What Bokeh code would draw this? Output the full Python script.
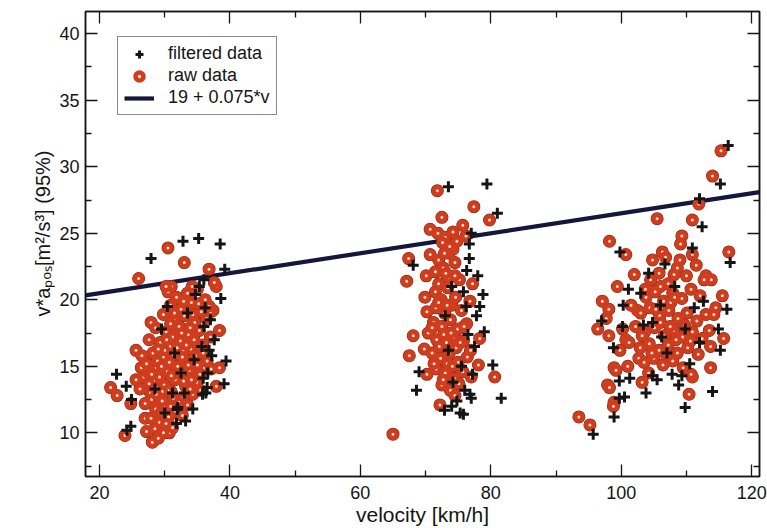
from bokeh.plotting import figure
from bokeh.models import Range1d, FixedTicker, LinearAxis, Legend, LegendItem, ColumnDataSource, Title
from bokeh.embed import file_html
from bokeh.resources import INLINE

# ---------------- data ----------------
x_ticks = [20, 40, 60, 80, 100, 120]
x_minor = [30, 50, 70, 90, 110]
y_ticks = [10, 15, 20, 25, 30, 35, 40]
y_minor = [7.5, 12.5, 17.5, 22.5, 27.5, 32.5, 37.5]

x_title = "velocity [km/h]"
y_title = "v*aₚₒₛ[m²/s³] (95%)"

fit_intercept = 19.0
fit_slope = 0.075
fit_label = "19 + 0.075*v"

raw_low = [
    (30.5, 23.9), (33.0, 22.8), (26.0, 21.6), (36.8, 22.3), (37.9, 21.0), (31.0, 21.0),
    (37.6, 21.3), (37.4, 19.2), (27.9, 18.3), (38.4, 17.7), (25.6, 16.2), (26.4, 14.9),
    (38.4, 14.9), (37.9, 13.5), (21.7, 13.4), (22.7, 12.8), (24.8, 12.2), (23.9, 9.8),
    (28.1, 9.3), (27.2, 10.1), (30.7, 10.0), (27.0, 11.1), (37.0, 19.1),
    (30.5, 20.6), (31.8, 20.2), (33.5, 20.5), (35.0, 20.8), (36.2, 20.0), (30.9, 19.6),
    (32.5, 19.3), (34.1, 19.8), (35.6, 19.1), (29.8, 18.9), (31.4, 18.5), (33.0, 18.8),
    (34.6, 18.3), (36.4, 18.6), (28.6, 17.9), (30.2, 17.6), (31.9, 17.9), (33.6, 17.4),
    (35.3, 17.7), (37.0, 17.2), (27.6, 17.0), (29.3, 16.8), (30.8, 16.5), (32.4, 16.9),
    (34.0, 16.3), (35.8, 16.6), (28.2, 16.0), (29.8, 15.7), (31.3, 15.9), (33.1, 15.5),
    (34.7, 15.8), (36.5, 15.4), (27.2, 15.2), (28.7, 14.9), (30.4, 14.6), (32.0, 15.0),
    (33.8, 14.7), (35.4, 14.4), (37.1, 14.8), (26.8, 14.2), (28.3, 13.9), (29.9, 13.6),
    (31.6, 14.0), (33.2, 13.5), (34.9, 13.8), (26.2, 13.3), (27.8, 13.0), (29.4, 12.7),
    (31.0, 13.1), (32.6, 12.6), (34.3, 12.9), (27.0, 12.2), (28.6, 11.8), (30.1, 12.0),
    (31.7, 11.6), (33.5, 12.1), (27.9, 11.1), (29.2, 10.8), (30.6, 11.2), (28.5, 10.3),
    (29.8, 10.0), (31.2, 10.4), (29.0, 9.6), (32.2, 18.0), (30.0, 16.2), (31.0, 14.3),
    (32.8, 16.2), (29.2, 14.2), (33.6, 15.1), (30.5, 13.2), (32.1, 12.3), (28.9, 15.4),
    (34.5, 17.0), (35.9, 16.0), (36.8, 19.5), (31.2, 17.2), (29.6, 12.4), (27.4, 14.5),
    (26.5, 15.8), (32.9, 19.9), (34.2, 21.0), (30.2, 21.0), (35.2, 19.7), (33.9, 13.3),
    (35.5, 13.2), (25.6, 14.0), (28.0, 12.5),
    (29.5, 15.0), (30.7, 15.3), (32.7, 15.7), (31.9, 16.4), (30.3, 17.0), (29.0, 16.3),
    (28.0, 14.4), (29.6, 13.1), (31.3, 12.6), (32.9, 13.9), (30.9, 18.2), (32.6, 17.5),
    (34.3, 18.9), (33.3, 16.6), (31.5, 19.0), (28.7, 12.9), (30.2, 10.7), (29.3, 11.5),
    (32.7, 11.3), (27.6, 13.7), (33.9, 17.9), (35.0, 15.1), (34.1, 14.0), (30.9, 12.0),
]
raw_mid = [
    (71.8, 28.2), (77.4, 27.0), (72.5, 26.2), (79.8, 26.0), (70.7, 25.3), (75.7, 25.6),
    (71.9, 25.0), (73.0, 24.7), (74.2, 25.1), (72.6, 24.3), (74.8, 24.4), (76.2, 24.8),
    (67.4, 23.1), (70.7, 23.4), (73.6, 23.5), (72.0, 23.0), (74.5, 22.8), (67.1, 21.4),
    (70.1, 21.8), (72.7, 22.4), (73.5, 21.7), (75.2, 21.5), (77.2, 21.2), (69.9, 20.2),
    (71.5, 20.6), (72.4, 20.0), (73.4, 20.9), (74.6, 20.2), (76.8, 19.9), (70.2, 19.1),
    (71.6, 19.4), (72.9, 19.0), (75.5, 19.2), (76.3, 18.2), (71.2, 18.3), (72.5, 18.0),
    (73.8, 18.5), (74.9, 17.8), (68.1, 17.3), (70.4, 17.5), (71.7, 17.0), (73.2, 16.8),
    (74.3, 17.2), (75.8, 16.9), (78.3, 17.1), (67.5, 15.8), (69.8, 16.3), (71.0, 16.0),
    (72.3, 15.6), (73.6, 15.9), (75.0, 15.3), (76.4, 15.7), (78.1, 15.1), (70.2, 14.4),
    (71.6, 14.8), (73.0, 14.5), (74.4, 14.1), (75.7, 14.6), (77.0, 14.2), (80.6, 14.2),
    (72.5, 13.6), (73.8, 13.2), (75.1, 13.7), (74.5, 12.8), (72.2, 12.1), (65.0, 9.9),
    (71.0, 17.9), (74.0, 19.6), (72.0, 21.2), (75.9, 18.0), (73.3, 15.2), (74.7, 16.4),
    (76.9, 16.2), (72.8, 17.4), (74.2, 23.8), (73.1, 22.0),
    (72.0, 19.8), (73.9, 17.5), (71.3, 15.2), (74.1, 15.0), (72.7, 14.0), (73.3, 19.6),
    (74.5, 21.8), (72.9, 23.5), (73.7, 24.0), (71.5, 22.1), (75.3, 16.8), (72.1, 16.5),
]
raw_high = [
    (115.3, 31.2), (114.0, 29.3), (111.9, 27.2), (105.5, 26.1), (110.9, 26.0), (98.2, 24.4),
    (109.3, 24.8), (109.1, 24.2), (100.7, 23.4), (106.3, 23.6), (110.9, 23.4), (116.5, 23.6),
    (108.1, 21.9), (113.0, 21.8), (113.8, 21.5), (99.4, 21.0), (103.7, 20.8), (97.1, 19.9),
    (115.5, 20.3), (98.1, 19.3), (102.5, 19.2), (97.7, 18.6), (96.4, 17.8), (98.1, 17.3),
    (100.7, 17.0), (114.5, 19.4), (114.2, 18.9), (115.7, 17.1), (113.7, 16.5), (99.8, 16.2),
    (102.7, 15.6), (98.9, 14.9), (99.2, 14.7), (113.7, 14.9), (97.9, 13.6), (103.2, 13.8),
    (110.9, 14.2), (110.4, 12.9), (98.9, 12.3), (98.8, 12.0), (93.5, 11.2), (95.2, 10.6),
    (98.2, 13.4), (110.7, 14.4),
    (104.5, 21.5), (105.8, 22.0), (107.2, 21.2), (108.6, 22.4), (110.0, 21.8), (111.5, 22.6),
    (103.8, 20.2), (105.2, 20.6), (106.5, 19.9), (107.9, 20.5), (109.3, 20.1), (110.7, 20.8),
    (112.1, 20.3), (101.5, 19.6), (103.0, 19.0), (104.4, 19.4), (105.9, 18.8), (107.3, 19.2),
    (108.7, 18.6), (110.1, 19.0), (111.6, 18.4), (113.0, 18.9), (102.2, 18.0), (103.6, 17.6),
    (105.1, 17.9), (106.6, 17.3), (108.0, 17.7), (109.4, 17.2), (110.9, 17.6), (112.4, 17.1),
    (101.2, 16.8), (102.9, 16.4), (104.3, 16.7), (105.8, 16.2), (107.2, 16.6), (108.6, 16.0),
    (110.2, 16.4), (111.8, 15.9), (103.5, 15.3), (105.0, 15.6), (106.4, 15.1), (107.9, 15.4),
    (109.5, 14.9), (104.2, 14.5), (101.0, 15.0), (106.0, 21.0), (109.0, 23.0), (107.5, 18.0),
    (106.8, 23.2), (112.7, 21.5), (113.5, 17.7), (100.2, 17.8), (102.0, 21.9), (104.8, 23.0),
    (106.0, 18.3), (107.6, 19.8), (108.4, 17.0), (105.3, 19.3), (109.7, 18.1), (104.7, 16.0),
    (106.9, 15.9), (108.2, 20.2), (110.6, 16.9), (103.2, 17.3),
]

filtered_low = [
    (32.8, 24.4), (35.2, 24.6), (38.5, 24.2), (27.9, 23.1), (39.2, 22.3), (38.6, 20.1),
    (35.3, 21.0), (30.4, 19.5), (37.6, 17.0), (39.4, 15.4), (39.1, 13.7), (22.6, 14.4),
    (24.1, 13.5), (35.8, 12.9), (32.0, 11.9), (31.8, 10.7), (24.8, 10.5), (24.2, 10.2),
    (36.3, 13.0), (35.7, 16.5), (31.2, 13.0), (36.6, 14.5), (31.9, 11.75),
    (33.5, 19.0), (36.0, 18.0), (34.5, 15.5), (36.8, 16.2), (35.9, 14.1), (33.0, 13.0),
    (34.3, 11.8), (36.5, 13.4), (29.5, 17.8), (31.5, 16.0), (30.0, 11.5), (33.2, 10.9),
    (36.2, 19.4), (37.2, 15.8), (28.5, 13.3), (24.9, 12.5), (32.5, 14.5), (36.0, 21.5),
    (34.7, 20.4), (37.0, 18.5),
]
filtered_mid = [
    (73.5, 28.5), (79.4, 28.7), (81.0, 26.5), (76.7, 24.2), (76.7, 23.1), (68.1, 22.6),
    (76.3, 22.2), (78.8, 20.4), (78.3, 19.5), (77.8, 18.8), (68.6, 13.2), (80.3, 15.1),
    (81.6, 12.6), (75.3, 11.5), (72.9, 11.7), (76.8, 12.9), (77.2, 14.4), (74.8, 12.4),
    (75.8, 11.4), (77.0, 12.6),
    (74.0, 21.0), (75.8, 20.6), (73.0, 18.8), (76.5, 17.4), (77.5, 16.5), (75.5, 15.0),
    (74.2, 13.8), (76.0, 13.2), (73.5, 16.2), (78.0, 21.8), (77.0, 25.0), (79.0, 17.6),
    (74.0, 12.0), (69.0, 14.6), (76.2, 19.5),
]
filtered_high = [
    (116.4, 31.6), (115.2, 28.7), (112.0, 27.6), (112.4, 25.5), (99.8, 23.6), (110.9, 23.9),
    (116.7, 22.8), (106.7, 22.7), (104.2, 22.0), (101.1, 20.8), (100.3, 19.6), (97.0, 18.4),
    (100.2, 18.0), (103.4, 18.1), (116.2, 19.3), (114.9, 17.8), (115.2, 16.2), (112.6, 19.9),
    (98.8, 16.4), (99.7, 13.9), (101.3, 14.1), (100.5, 12.7), (103.8, 13.0), (104.8, 14.3),
    (107.8, 14.4), (109.3, 14.3), (114.0, 13.1), (109.8, 11.9), (98.9, 11.2), (95.7, 9.9),
    (99.7, 12.6),
    (106.0, 19.6), (108.2, 21.0), (109.8, 17.8), (107.0, 16.0), (111.2, 19.4), (104.8, 18.3),
    (110.5, 15.2), (105.5, 14.0), (108.8, 13.6), (112.0, 16.8), (106.2, 17.2), (103.0, 20.5),
]

# ---------------- figure ----------------
X0, X1 = 17.85, 121.2
Y0, Y1 = 6.72, 41.67
FONT = "Liberation Sans"
INK = "#151515"

p = figure(width=767, height=528, output_backend="svg", toolbar_location=None,
           x_range=Range1d(X0, X1), y_range=Range1d(Y0, Y1),
           min_border_left=85, min_border_right=8, min_border_top=11, min_border_bottom=51,
           background_fill_color="white", border_fill_color="white")
p.grid.visible = False
p.outline_line_color = INK
p.outline_line_width = 1.5

xt = FixedTicker(ticks=x_ticks, minor_ticks=x_minor)
yt = FixedTicker(ticks=y_ticks, minor_ticks=y_minor)

def style_axis(ax, show_labels, standoff):
    ax.axis_line_color = INK
    ax.axis_line_width = 1.5
    ax.major_tick_in = 12
    ax.major_tick_out = 0
    ax.minor_tick_in = 6
    ax.minor_tick_out = 0
    ax.major_tick_line_color = INK
    ax.minor_tick_line_color = INK
    ax.major_tick_line_width = 1.3
    ax.minor_tick_line_width = 1.3
    ax.major_label_text_font = FONT
    ax.major_label_text_font_size = "18px"
    ax.major_label_text_color = INK
    ax.major_label_standoff = standoff
    if not show_labels:
        ax.major_label_overrides = {t: "" for t in (x_ticks + y_ticks)}
        ax.major_label_standoff = 0

p.xaxis.ticker = xt
p.yaxis.ticker = yt
style_axis(p.xaxis[0], True, 9)
style_axis(p.yaxis[0], True, 6)

xa = p.xaxis[0]
xa.axis_label = x_title
xa.axis_label_text_font = FONT
xa.axis_label_text_font_size = "21px"
xa.axis_label_text_font_style = "normal"
xa.axis_label_text_color = INK
xa.axis_label_standoff = 1

top_ax = LinearAxis(ticker=xt)
right_ax = LinearAxis(ticker=yt)
style_axis(top_ax, False, 0)
style_axis(right_ax, False, 0)
p.add_layout(top_ax, "above")
p.add_layout(right_ax, "right")

ytitle = Title(text=y_title, align="right", offset=139, standoff=6,
               text_font=FONT, text_font_size="20px", text_font_style="normal",
               text_color=INK)
p.add_layout(ytitle, "left")

raw_all = raw_low + raw_mid + raw_high
filt_all = filtered_low + filtered_mid + filtered_high
raw_src = ColumnDataSource(dict(v=[a for a, b in raw_all], a=[b for a, b in raw_all]))
filt_src = ColumnDataSource(dict(v=[a for a, b in filt_all], a=[b for a, b in filt_all]))

line_v = [X0, X1]
line_a = [fit_intercept + fit_slope * v for v in line_v]
line_r = p.line(line_v, line_a, line_color="#14163c", line_width=4.2)

under_r = p.scatter("v", "a", source=raw_src, marker="circle", size=13,
                    fill_color="#7c2a14", line_color=None)
ring_r = p.scatter("v", "a", source=raw_src, marker="circle", size=7.5,
                   fill_color="#fbe2c6", line_color="#d13b1e", line_width=4.5)
cross_r = p.scatter("v", "a", source=filt_src, marker="cross", size=11,
                    line_color=INK, line_width=3)

legend = Legend(items=[
    LegendItem(label="filtered data", renderers=[cross_r]),
    LegendItem(label="raw data", renderers=[under_r, ring_r]),
    LegendItem(label=fit_label, renderers=[line_r]),
], location=(32, 361), orientation="vertical")
legend.label_text_font = FONT
legend.label_text_font_size = "18px"
legend.label_text_color = INK
legend.glyph_width = 30
legend.glyph_height = 20
legend.label_height = 20
legend.spacing = 1
legend.padding = 6
legend.margin = 0
legend.label_standoff = 14
legend.border_line_color = INK
legend.border_line_width = 1.5
legend.background_fill_color = "white"
legend.background_fill_alpha = 1.0
p.add_layout(legend, "center")

open("out.html", "w").write(file_html(p, INLINE))
